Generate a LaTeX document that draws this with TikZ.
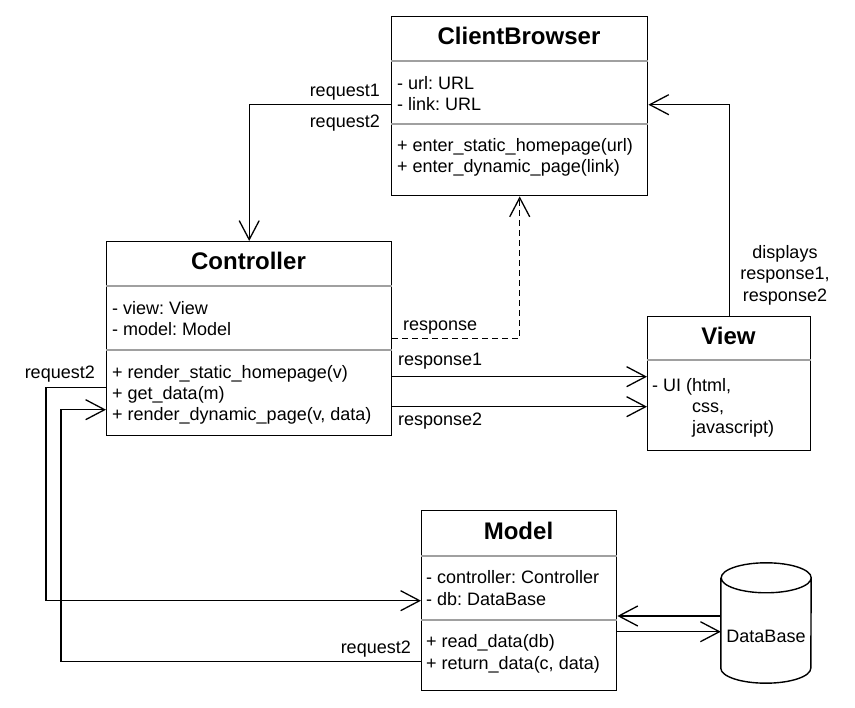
\documentclass[tikz,border=0pt]{standalone}
\usepackage{fontspec}
\setmainfont{Liberation Sans}
\usetikzlibrary{arrows.meta,calc}
\definecolor{sepgray}{RGB}{160,160,160}
\frenchspacing
\begin{document}
\begin{tikzpicture}[x=1pt,y=-1pt,
 box/.style={draw=black,line width=1.4pt,rectangle,inner sep=0pt,anchor=north west},
 sep/.style={draw=sepgray,line width=1.3pt},
 txt/.style={inner sep=0pt,anchor=base west,font=\fontsize{18}{21.5}\selectfont},
 ttl/.style={inner sep=0pt,anchor=base,font=\fontsize{24}{28}\selectfont\bfseries},
 lbl/.style={inner sep=0pt,font=\fontsize{18}{21.5}\selectfont},
 arr/.style={draw=black,line width=1.3pt,-{Straight Barb[length=19pt,width=20pt]}},
 cyl/.style={draw=black,line width=1.4pt},
]
\useasboundingbox (0,0) rectangle (855,708);

% ClientBrowser
\node[box,minimum width=256pt,minimum height=179pt] (cb) at (391,16) {};
\draw[sep] ($(cb.north west)+(0,45)$) -- ($(cb.north east)+(0,45)$);
\draw[sep] ($(cb.north west)+(0,108)$) -- ($(cb.north east)+(0,108)$);
\node[ttl] (cbt) at (519,44.5) {ClientBrowser};
\node[txt] (cb1) at (397,89.5) {- url: URL};
\node[txt] (cb2) at (397,111) {- link: URL};
\node[txt] (cb3) at (397,151.5) {+ enter\_static\_homepage(url)};
\node[txt] (cb4) at (397,172.5) {+ enter\_dynamic\_page(link)};

% Controller
\node[box,minimum width=285pt,minimum height=194pt] (ctrl) at (106,241) {};
\draw[sep] ($(ctrl.north west)+(0,45)$) -- ($(ctrl.north east)+(0,45)$);
\draw[sep] ($(ctrl.north west)+(0,109)$) -- ($(ctrl.north east)+(0,109)$);
\node[ttl] (ctt) at (248.5,269.5) {Controller};
\node[txt] (ct1) at (112,314.5) {- view: View};
\node[txt] (ct2) at (112,335.5) {- model: Model};
\node[txt] (ct3) at (112,378.5) {+ render\_static\_homepage(v)};
\node[txt] (ct4) at (112,399.5) {+ get\_data(m)};
\node[txt] (ct5) at (112,420.5) {+ render\_dynamic\_page(v, data)};

% View
\node[box,minimum width=163pt,minimum height=134pt] (view) at (647,316) {};
\draw[sep] ($(view.north west)+(0,44)$) -- ($(view.north east)+(0,44)$);
\node[ttl] (vt) at (728.5,344.5) {View};
\node[txt] (v1) at (652,391.5) {- UI (html,};
\node[txt] (v2) at (692,412.5) {css,};
\node[txt] (v3) at (692,433.5) {javascript)};

% Model
\node[box,minimum width=195pt,minimum height=180pt] (model) at (421,510) {};
\draw[sep] ($(model.north west)+(0,46)$) -- ($(model.north east)+(0,46)$);
\draw[sep] ($(model.north west)+(0,110)$) -- ($(model.north east)+(0,110)$);
\node[ttl] (mt) at (518.5,539.5) {Model};
\node[txt] (m1) at (426,583.5) {- controller: Controller};
\node[txt] (m2) at (426,606) {- db: DataBase};
\node[txt] (m3) at (426,647.5) {+ read\_data(db)};
\node[txt] (m4) at (426,669) {+ return\_data(c, data)};

% DataBase cylinder
\node[inner sep=0pt,minimum width=90pt,minimum height=120pt] (db) at (766,623) {};
\draw[cyl] ($(db.north west)+(0,15)$) -- ($(db.south west)+(0,-15)$)
  arc[start angle=180,end angle=360,x radius=45pt,y radius=15pt]
  -- ($(db.north east)+(0,15)$)
  arc[start angle=0,end angle=180,x radius=45pt,y radius=15pt]
  arc[start angle=180,end angle=360,x radius=45pt,y radius=15pt];
\node[lbl,anchor=base] (dbt) at (766,642.5) {DataBase};

% Connectors
\draw[arr] ($(cb.west)+(0,-1.5)$) -| (ctrl.north);
\node[lbl,anchor=base east] (lq1) at (380,96.5) {request1};
\node[lbl,anchor=base east] (lq2) at (380,127.5) {request2};

\draw[arr,dash pattern=on 6pt off 4pt] (ctrl.east) -| (cb.south);
\node[lbl,anchor=base west] (lres) at (403,330.5) {response};

\draw[arr] ($(ctrl.east)+(0,38)$) coordinate (r1) -- (r1 -| view.west);
\node[lbl,anchor=base west] (lr1) at (398,366) {response1};
\draw[arr] ($(ctrl.east)+(0,68)$) coordinate (r2) -- (r2 -| view.west);
\node[lbl,anchor=base west] (lr2) at (398,426) {response2};

\draw[arr] (view.north) |- ($(cb.east)+(0,-1.5)$);
\node[lbl,align=center] (ldisp) at (785,275) {displays\\response1,\\response2};

\draw[arr] ($(ctrl.west)+(0,49)$) -- ++(-60,0) |- (model.west);
\node[lbl,anchor=base east] (lq3) at (95,378.5) {request2};

\draw[arr] ($(model.west)+(0,61)$) -- ++(-360,0) |- ($(ctrl.west)+(0,71)$);
\node[lbl,anchor=base east] (lq4) at (411,653) {request2};

\draw[arr] ($(db.west)+(0,-7)$) coordinate (d1) -- (d1 -| model.east);
\draw[arr] ($(model.east)+(0,31)$) coordinate (d2) -- (d2 -| db.west);
\end{tikzpicture}
\end{document}
